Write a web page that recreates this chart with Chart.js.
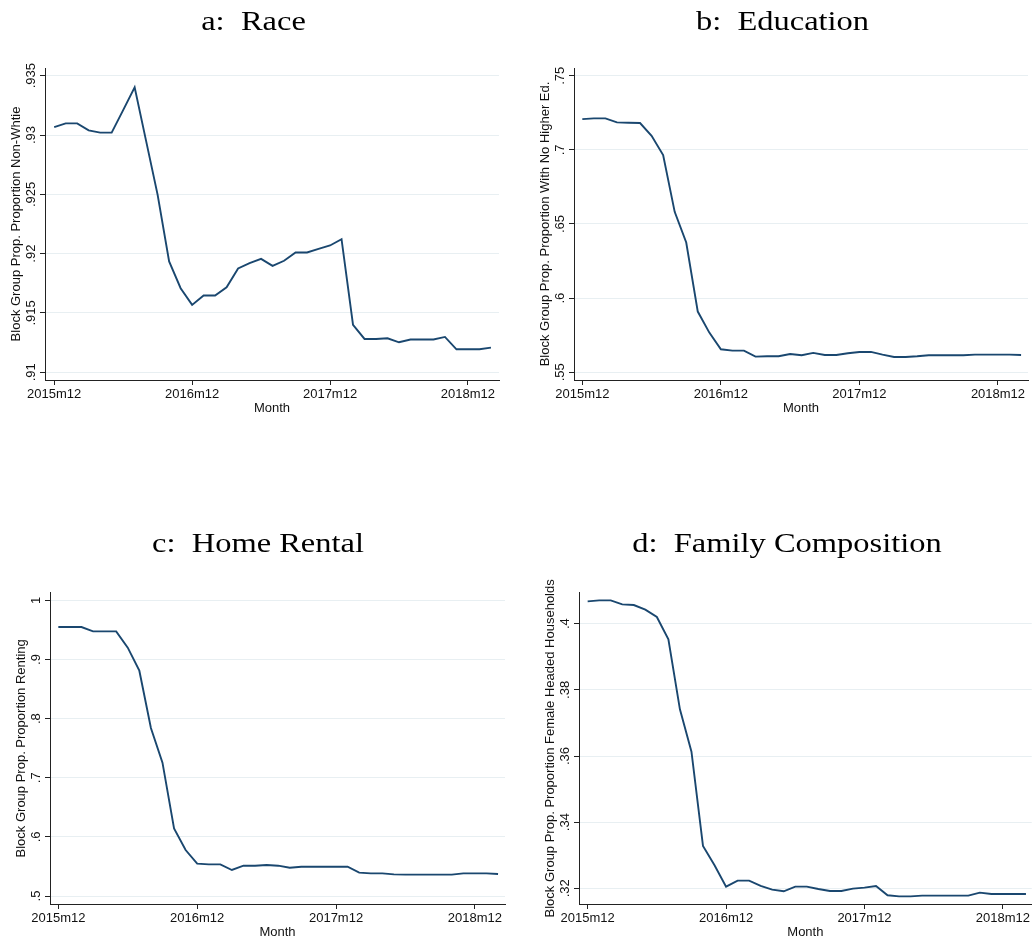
<!DOCTYPE html>
<html>
<head>
<meta charset="utf-8">
<script src="https://cdn.jsdelivr.net/npm/chart.js@4.4.1/dist/chart.umd.min.js"></script>
<style>
  html, body { margin: 0; padding: 0; background: #ffffff; }
  #wrap { position: relative; width: 1032px; height: 943px; overflow: hidden; }
  canvas { position: absolute; }
</style>
</head>
<body>
<div id="wrap">
  <canvas id="pRace"></canvas>
  <canvas id="pEdu"></canvas>
  <canvas id="pRent"></canvas>
  <canvas id="pFam"></canvas>
</div>
<script>
// Monthly observations, 2015m12 through 2019m2
const months = [
  '2015m12',
  '2016m1','2016m2','2016m3','2016m4','2016m5','2016m6','2016m7','2016m8','2016m9','2016m10','2016m11','2016m12',
  '2017m1','2017m2','2017m3','2017m4','2017m5','2017m6','2017m7','2017m8','2017m9','2017m10','2017m11','2017m12',
  '2018m1','2018m2','2018m3','2018m4','2018m5','2018m6','2018m7','2018m8','2018m9','2018m10','2018m11','2018m12',
  '2019m1','2019m2'
];
const xTickMonths = ['2015m12', '2016m12', '2017m12', '2018m12'];

// Block group proportion non-white
const raceValues = [
  .93067, .93098, .93098, .93039, .9302, .9302, .9321, .93402, .92949, .92496,
  .91934, .91709, .91568, .91647, .91647, .91717, .91875, .9192, .91956, .91897,
  .9194, .9201, .9201, .9204, .92069, .92122, .91399, .91281, .91281, .91287,
  .91253, .91276, .91276, .91276, .91298, .91194, .91194, .91194, .91208
];
// Block group proportion with no higher education
const eduValues = [
  .72075, .7212, .7212, .7185, .7183, .7181, .7095, .69645, .65821, .6375,
  .59094, .57677, .56552, .56462, .56462, .56057, .5608, .5608, .56237, .56147,
  .56305, .5617, .5617, .56282, .56372, .56372, .56192, .56035, .56035, .5608,
  .56147, .56147, .56147, .56147, .56192, .56192, .56192, .56192, .5617
];
// Block group proportion renting
const rentValues = [
  .9549, .9549, .9549, .9476, .9476, .9476, .9200, .8811, .7841, .7255,
  .6144, .5778, .5547, .5536, .5536, .5440, .5513, .5513, .5524, .5513,
  .5479, .5496, .5496, .5496, .5496, .5496, .5395, .5383, .5383, .5366,
  .5361, .5361, .5361, .5361, .5361, .5383, .5383, .5383, .5372
];
// Block group proportion female headed households
const famValues = [
  .40675, .40705, .40705, .40584, .40564, .40423, .40202, .39526, .37411, .36131,
  .3328, .32695, .3205, .32232, .32232, .32071, .3196, .3191, .3205, .3205,
  .3198, .31919, .31919, .3199, .3202, .32071, .31789, .31758, .31758, .31778,
  .31778, .31778, .31778, .31778, .31869, .31829, .31829, .31829, .31829
];

// y-axis tick values and their printed labels
const raceTicks = [.91, .915, .92, .925, .93, .935];
const raceTickLabels = ['.91', '.915', '.92', '.925', '.93', '.935'];
const eduTicks = [.55, .6, .65, .7, .75];
const eduTickLabels = ['.55', '.6', '.65', '.7', '.75'];
const rentTicks = [.5, .6, .7, .8, .9, 1];
const rentTickLabels = ['.5', '.6', '.7', '.8', '.9', '1'];
const famTicks = [.32, .34, .36, .38, .4];
const famTickLabels = ['.32', '.34', '.36', '.38', '.4'];

const SANS = '"Liberation Sans", Arial, Helvetica, sans-serif';
const SERIF = '"Liberation Serif", "Times New Roman", serif';
const LINE = '#1a476f';
const GRID = '#e8eff2';
const AXIS = '#222222';

// Panel title and rotated y tick labels drawn on the canvas
const panelText = {
  id: 'panelText',
  afterDraw(chart, args, o) {
    const ctx = chart.ctx;
    const y = chart.scales.y;
    ctx.save();
    ctx.fillStyle = '#000';
    ctx.font = '28px ' + SERIF;
    ctx.textAlign = 'center';
    ctx.textBaseline = 'alphabetic';
    ctx.translate(o.titleX, o.titleY);
    ctx.scale(1.16, 1);
    ctx.fillText(o.title, 0, 0);
    ctx.restore();

    ctx.save();
    ctx.font = '13px ' + SANS;
    ctx.fillStyle = '#111';
    o.ticks.forEach((v, i) => {
      const py = y.getPixelForValue(v);
      ctx.save();
      ctx.translate(chart.chartArea.left - 10, py);
      ctx.rotate(-Math.PI / 2);
      ctx.textAlign = 'center';
      ctx.textBaseline = 'alphabetic';
      ctx.fillText(o.tickLabels[i], 0, 0);
      ctx.restore();
    });
    ctx.restore();
  }
};

function makePanel(id, p) {
  const cv = document.getElementById(id);
  cv.width = p.w; cv.height = p.h;
  cv.style.left = p.left + 'px';
  cv.style.top = p.top + 'px';
  cv.style.width = p.w + 'px';
  cv.style.height = p.h + 'px';
  const xH = 40;
  new Chart(cv, {
    type: 'line',
    data: {
      datasets: [{
        data: p.values.map((v, i) => ({ x: i, y: v })),
        borderColor: LINE,
        borderWidth: 1.9,
        pointRadius: 0,
        tension: 0,
        fill: false
      }]
    },
    options: {
      responsive: false,
      animation: false,
      devicePixelRatio: 1,
      layout: {
        padding: { left: 0, top: p.plotTop, right: p.w - p.plotRight, bottom: p.h - p.plotBottom - xH }
      },
      plugins: {
        legend: { display: false },
        tooltip: { enabled: false },
        panelText: { title: p.title, titleX: p.titleX, titleY: p.titleY, ticks: p.ticks, tickLabels: p.tickLabels }
      },
      scales: {
        x: {
          type: 'linear',
          min: p.xMin,
          max: p.xMax,
          afterBuildTicks: s => { s.ticks = xTickMonths.map(m => ({ value: months.indexOf(m) })); },
          afterFit: s => { s.height = xH; },
          ticks: {
            autoSkip: false,
            maxRotation: 0,
            padding: 2,
            color: '#111',
            font: { family: SANS, size: 13 },
            callback: v => months[v]
          },
          grid: { drawOnChartArea: false, drawTicks: true, tickLength: 5, tickColor: AXIS, tickWidth: 1 },
          border: { display: true, color: AXIS, width: 1 },
          title: { display: true, text: 'Month', color: '#111', font: { family: SANS, size: 13 }, padding: { top: 0, bottom: 4 } }
        },
        y: {
          type: 'linear',
          min: p.yMin,
          max: p.yMax,
          afterBuildTicks: s => { s.ticks = p.ticks.map(v => ({ value: v })); },
          afterFit: s => { s.width = p.plotLeft; },
          ticks: { display: false },
          grid: { color: GRID, lineWidth: 1, drawTicks: true, tickLength: 5, tickColor: AXIS, tickWidth: 1 },
          border: { display: true, color: AXIS, width: 1 },
          title: {
            display: true, text: p.yTitle, color: '#111',
            font: { family: SANS, size: 13 },
            padding: { top: p.yTitleX - 7.8, bottom: 0 }
          }
        }
      }
    },
    plugins: [panelText]
  });
}

makePanel('pRace', {
  left: 0, top: 0, w: 516, h: 470,
  plotLeft: 45, plotTop: 68, plotRight: 499, plotBottom: 380,
  xMin: -0.8, xMax: 38.7, yMin: .90935, yMax: .93565,
  values: raceValues, ticks: raceTicks, tickLabels: raceTickLabels,
  yTitle: 'Block Group Prop. Proportion Non-Whtie', yTitleX: 16,
  title: 'a:  Race', titleX: 253.5, titleY: 29.5
});
makePanel('pEdu', {
  left: 516, top: 0, w: 516, h: 470,
  plotLeft: 58, plotTop: 68, plotRight: 512, plotBottom: 380,
  xMin: -0.72, xMax: 38.6, yMin: .5448, yMax: .7552,
  values: eduValues, ticks: eduTicks, tickLabels: eduTickLabels,
  yTitle: 'Block Group Prop. Proportion With No Higher Ed.', yTitleX: 29,
  title: 'b:  Education', titleX: 266.5, titleY: 29.5
});
makePanel('pRent', {
  left: 0, top: 470, w: 516, h: 473,
  plotLeft: 50, plotTop: 122.7, plotRight: 505, plotBottom: 434,
  xMin: -0.72, xMax: 38.6, yMin: .4865, yMax: 1.013,
  values: rentValues, ticks: rentTicks, tickLabels: rentTickLabels,
  yTitle: 'Block Group Prop. Proportion Renting', yTitleX: 21,
  title: 'c:  Home Rental', titleX: 258, titleY: 82.3
});
makePanel('pFam', {
  left: 516, top: 470, w: 516, h: 473,
  plotLeft: 63, plotTop: 122.7, plotRight: 516, plotBottom: 434,
  xMin: -0.75, xMax: 38.5, yMin: .31526, yMax: .40937,
  values: famValues, ticks: famTicks, tickLabels: famTickLabels,
  yTitle: 'Block Group Prop. Proportion Female Headed Households', yTitleX: 34,
  title: 'd:  Family Composition', titleX: 271, titleY: 82.3
});
</script>
</body>
</html>
